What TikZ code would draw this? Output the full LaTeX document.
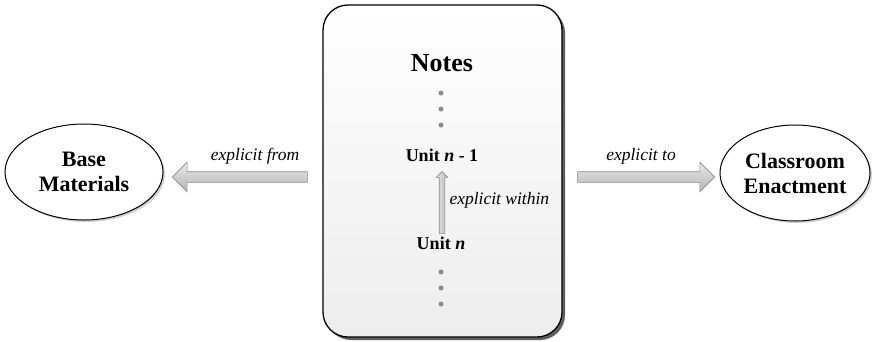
\documentclass[tikz,border=0pt]{standalone}
\usepackage{fontspec}
\setmainfont{Liberation Serif}
\usetikzlibrary{shapes.geometric,shapes.arrows,shadows}

% soft glossy fill for the two end ellipses
\pgfdeclareradialshading{glossy}{\pgfpoint{-8bp}{8bp}}{%
  color(0bp)=(white); color(28bp)=(white); color(41bp)=(black!20); color(50bp)=(black!38)}

\tikzset{
  endnode/.style={ellipse, draw=black, line width=1pt, shading=glossy,
    minimum width=#1, minimum height=96pt, inner sep=0pt, align=center,
    font=\fontsize{22}{25}\selectfont\bfseries,
    drop shadow={shadow xshift=2pt, shadow yshift=-2pt, fill=black!30, opacity=0.6}},
  notesbox/.style={rounded corners=25pt, draw=black, line width=1.3pt,
    top color=white, bottom color=black!7,
    drop shadow={shadow xshift=3pt, shadow yshift=-3pt, fill=black!70, opacity=0.9}},
  blockarrow/.style={single arrow, draw=black!45, line width=0.6pt,
    top color=black!8, bottom color=black!30,
    single arrow tip angle=90, single arrow head indent=0pt},
  unitlabel/.style={font=\fontsize{18}{21}\selectfont\bfseries},
  linklabel/.style={font=\fontsize{17.5}{20}\selectfont\itshape},
  ellipsisdot/.style={circle, fill=black!45, inner sep=0pt, minimum size=5pt},
}

\begin{document}
\begin{tikzpicture}[x=1pt,y=-1pt]
  \useasboundingbox (0,0) rectangle (872,341);

  % central notes panel
  \draw[notesbox] (323,5) rectangle (562,337);
  \node[font=\fontsize{26}{30}\selectfont\bfseries] (notes) at (442,63) {Notes};

  \node[ellipsisdot] (d1) at (441,93) {};
  \node[ellipsisdot] (d2) at (441,109) {};
  \node[ellipsisdot] (d3) at (441,125) {};

  \node[unitlabel] (unitprev) at (442,155) {Unit \textit{n} - 1};
  \node[unitlabel] (unitn) at (441,243) {Unit \textit{n}};

  \node[ellipsisdot] (d4) at (441,272) {};
  \node[ellipsisdot] (d5) at (441,288) {};
  \node[ellipsisdot] (d6) at (441,304) {};

  % the two sources either side
  \node[endnode=158pt] (base) at (84,172) {Base\\Materials};
  \node[endnode=150pt] (class) at (795,173) {Classroom\\Enactment};

  % block arrows
  \node[blockarrow, shape border rotate=180, minimum height=135pt,
        inner sep=5pt, single arrow head extend=9.5pt] (afrom) at (242.5,177) {};
  \node[blockarrow, minimum height=137pt,
        inner sep=5pt, single arrow head extend=9.5pt] (ato) at (643.5,177) {};
  \node[blockarrow, shape border rotate=90, minimum height=62pt,
        inner sep=2.5pt, single arrow head extend=3pt,
        left color=black!8, right color=black!30] (awithin) at (442,204) {};

  \node[linklabel] (lfrom) at (255,156) {explicit from};
  \node[linklabel] (lto) at (641,156) {explicit to};
  \node[linklabel, anchor=west] (lwithin) at (446,200) {explicit within};
\end{tikzpicture}
\end{document}
